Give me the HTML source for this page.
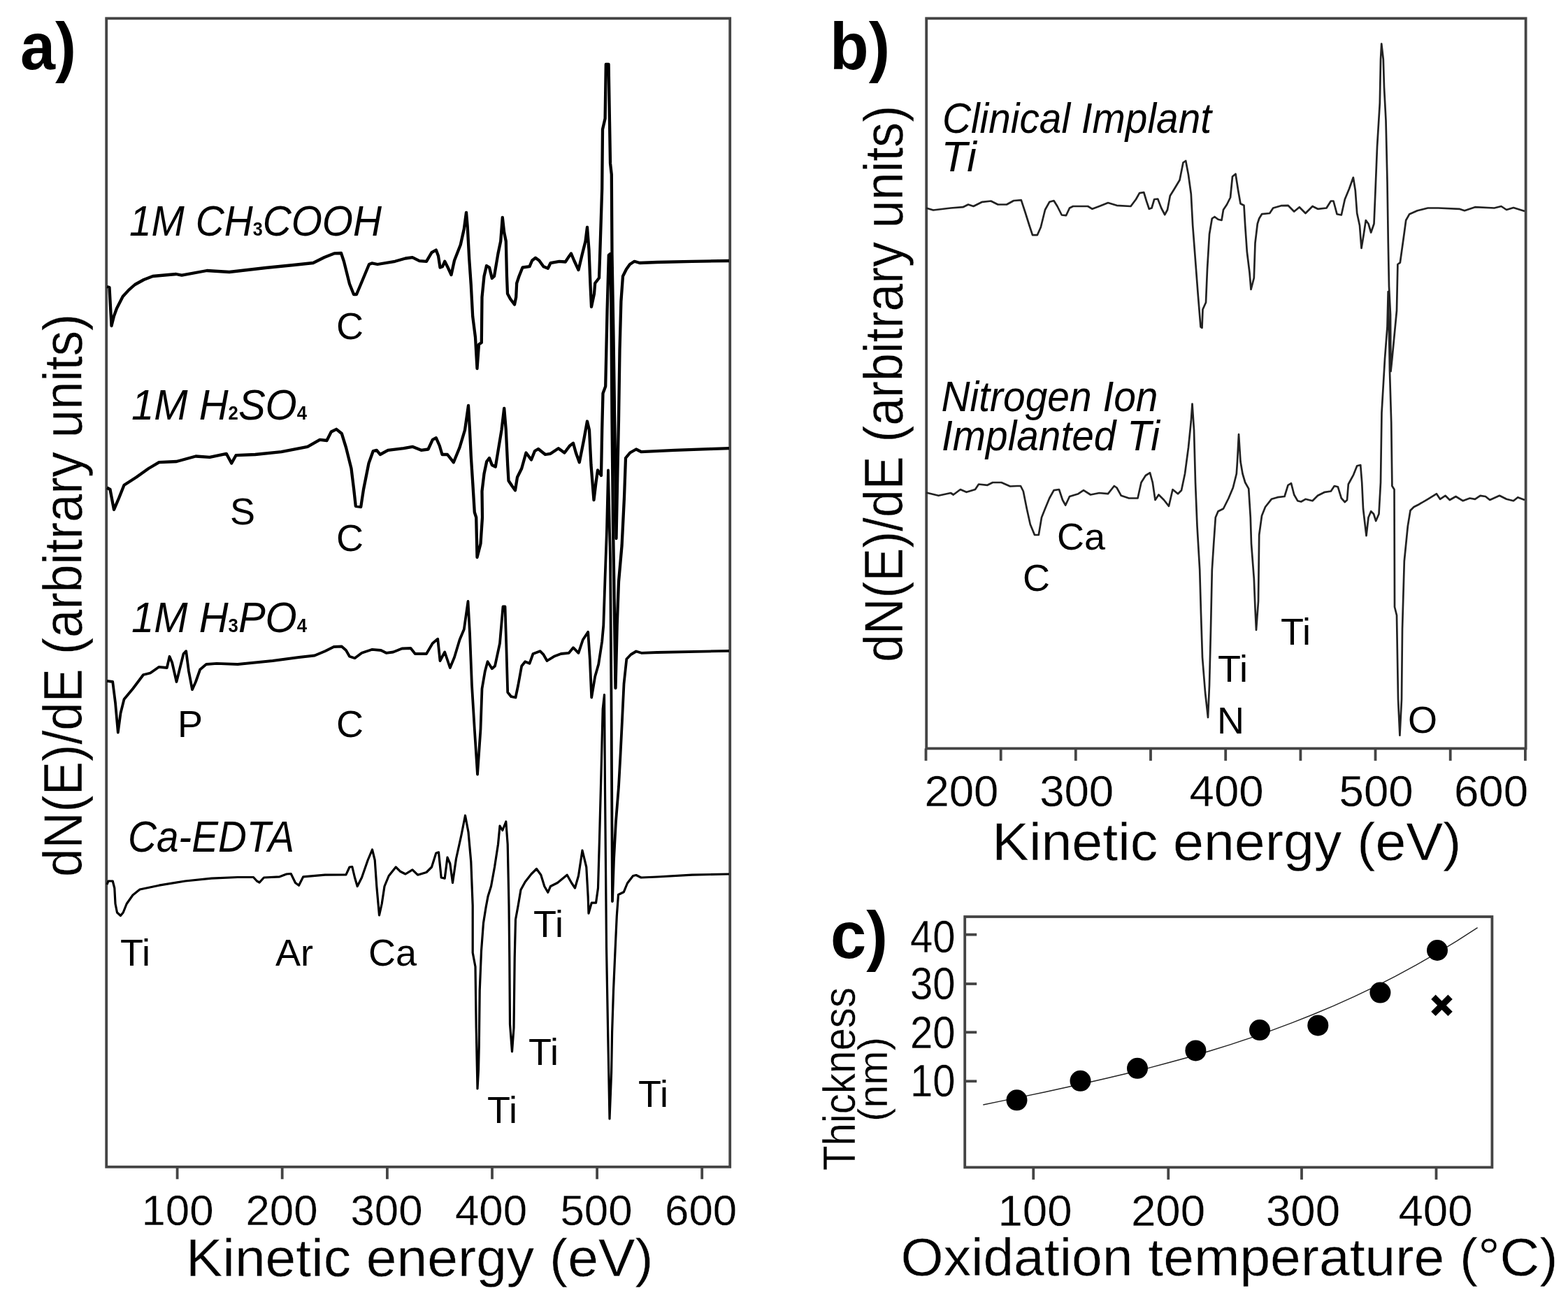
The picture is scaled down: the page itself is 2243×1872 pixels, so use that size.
<!DOCTYPE html>
<html lang="en"><head><meta charset="utf-8"><title>Auger electron spectra of titanium surfaces</title>
<style>
html,body{margin:0;padding:0;background:#fff;}
body{width:2243px;height:1872px;overflow:hidden;}
svg{display:block;filter:blur(0.6px);}
text{font-family:"Liberation Sans", Arial, Helvetica, sans-serif;fill:#000;}
.it{font-style:italic;}
.sb{font-size:27px;font-style:normal;font-weight:bold;stroke-width:0;}
.pn{font-weight:bold;}
.ax{stroke:#fff;stroke-width:0.4px;}
.tl{stroke:#fff;stroke-width:0.3px;}
.lb{}
.fr{fill:none;stroke:#444;stroke-width:3.8px;}
.tk{stroke:#444;stroke-width:3.8px;}
.ca{fill:none;stroke:#000;stroke-width:4.3px;stroke-linejoin:round;}
.c3{stroke-width:3.8px;}
.c4{stroke-width:3.2px;}
.cb{fill:none;stroke:#222;stroke-width:2.7px;stroke-linejoin:round;}
.fit{fill:none;stroke:#222;stroke-width:1.4px;stroke-linejoin:round;}
.xm{stroke:#000;stroke-width:9px;stroke-linecap:square;}
</style></head>
<body>
<svg xmlns="http://www.w3.org/2000/svg" width="2243" height="1872" viewBox="0 0 2243 1872">
<rect width="2243" height="1872" fill="#fff"/>
<rect class="fr" x="152.2" y="26.3" width="892.0" height="1642.5"/>
<line class="tk" x1="253.6" y1="1668.8" x2="253.6" y2="1686.3"/>
<line class="tk" x1="403.7" y1="1668.8" x2="403.7" y2="1686.3"/>
<line class="tk" x1="553.9" y1="1668.8" x2="553.9" y2="1686.3"/>
<line class="tk" x1="704" y1="1668.8" x2="704" y2="1686.3"/>
<line class="tk" x1="854.1" y1="1668.8" x2="854.1" y2="1686.3"/>
<line class="tk" x1="1004.2" y1="1668.8" x2="1004.2" y2="1686.3"/>
<text x="254" y="1751.5" font-size="62" text-anchor="middle" class="tl" textLength="103" lengthAdjust="spacingAndGlyphs">100</text>
<text x="403" y="1751.5" font-size="62" text-anchor="middle" class="tl" textLength="103" lengthAdjust="spacingAndGlyphs">200</text>
<text x="553" y="1751.5" font-size="62" text-anchor="middle" class="tl" textLength="103" lengthAdjust="spacingAndGlyphs">300</text>
<text x="702.5" y="1751.5" font-size="62" text-anchor="middle" class="tl" textLength="103" lengthAdjust="spacingAndGlyphs">400</text>
<text x="853" y="1751.5" font-size="62" text-anchor="middle" class="tl" textLength="103" lengthAdjust="spacingAndGlyphs">500</text>
<text x="1002.6" y="1751.5" font-size="62" text-anchor="middle" class="tl" textLength="103" lengthAdjust="spacingAndGlyphs">600</text>
<text x="266" y="1824.5" font-size="76" class="ax" textLength="668.5" lengthAdjust="spacingAndGlyphs">Kinetic energy (eV)</text>
<text x="116.6" y="1254" font-size="78" class="ax" textLength="805" lengthAdjust="spacingAndGlyphs" transform="rotate(-90 116.6 1254)">dN(E)/dE (arbitrary units)</text>
<text x="29" y="99" font-size="94" class="pn" textLength="80" lengthAdjust="spacingAndGlyphs">a)</text>
<polyline class="ca" points="153.0,410.0 156.5,411.0 159.5,466.0 163.0,452.0 167.0,441.0 175.7,424.0 184.3,414.6 193.0,407.0 205.7,400.0 218.6,395.0 252.0,392.0 260.0,393.6 296.0,387.0 328.0,389.0 380.0,383.0 420.0,379.0 448.0,376.0 464.0,368.0 478.0,362.4 488.0,362.0 492.0,374.0 500.0,406.0 506.0,421.0 510.0,421.0 518.0,402.0 528.0,378.0 532.0,376.4 540.0,378.0 565.0,373.8 580.0,369.5 590.0,368.2 600.0,373.2 610.0,373.8 617.5,361.2 623.8,357.5 627.0,366.0 629.5,382.5 633.0,381.2 636.2,373.8 640.0,381.2 645.5,393.0 650.0,372.5 658.8,350.0 663.8,327.5 667.0,303.8 668.8,325.0 671.2,370.0 673.8,407.5 676.2,452.5 680.0,482.5 682.5,527.0 685.0,492.5 688.8,490.0 689.5,425.0 692.5,395.0 696.0,380.0 700.0,382.5 703.8,398.0 707.0,395.0 712.5,362.5 716.2,345.0 718.8,311.0 721.2,332.5 723.8,345.0 725.0,395.0 726.0,420.0 730.0,427.5 736.0,435.5 738.2,425.0 739.2,405.0 742.5,395.0 747.5,382.5 757.5,381.2 761.2,372.5 766.0,368.8 771.2,372.5 777.5,381.2 783.8,383.8 787.5,376.2 800.0,373.8 808.8,374.5 812.5,368.8 817.0,362.5 821.2,372.5 827.5,386.0 832.5,365.0 837.5,345.0 840.0,325.0 842.5,357.5 844.5,407.5 846.0,438.8 850.0,420.0 851.2,405.0 857.0,397.5 858.0,370.0 861.2,270.0 862.0,185.0 865.6,169.5 866.8,92.0 870.6,92.0 872.0,174.0 873.0,233.4 874.8,249.4 875.5,363.4 877.5,480.0 879.5,620.0 881.5,770.0 883.5,670.0 885.0,600.0 886.5,500.0 888.4,431.0 891.0,395.0 896.0,385.0 901.0,378.0 907.5,373.8 915.0,376.0 940.0,375.0 990.0,373.8 1043.0,373.0"/>
<polyline class="ca" points="153.0,697.5 157.5,700.0 163.0,728.8 170.0,712.5 177.5,693.8 195.0,682.5 212.5,670.0 227.5,661.2 252.5,660.0 280.0,652.5 300.0,653.8 323.8,648.8 331.2,662.5 337.5,651.2 365.0,650.0 402.5,646.2 440.0,638.8 457.5,628.8 467.5,630.0 473.8,617.5 481.2,613.8 488.8,620.0 495.0,640.0 502.5,670.0 506.2,700.0 508.8,723.8 516.2,725.0 520.0,700.0 527.5,662.5 533.8,645.0 538.8,643.8 543.8,650.0 555.0,643.8 577.5,641.2 590.0,638.8 602.5,643.8 612.5,642.5 618.8,628.8 623.8,626.2 628.8,637.5 632.5,650.0 640.0,650.0 648.8,661.2 657.5,640.0 665.0,615.0 670.0,580.0 672.0,615.0 673.8,652.5 676.2,690.0 678.8,732.5 681.2,740.0 682.5,797.0 687.5,777.5 690.0,740.0 689.5,702.5 692.5,677.5 696.2,660.0 700.0,655.0 703.8,665.0 708.8,667.5 712.5,645.0 717.5,615.0 721.2,583.8 723.8,615.0 726.2,665.0 727.5,687.5 732.5,695.0 737.0,701.2 740.0,682.5 746.2,670.0 752.5,647.5 760.0,657.5 765.0,645.0 770.0,642.0 780.0,650.0 787.5,648.8 798.8,641.2 807.5,647.5 815.0,637.5 820.0,633.8 823.8,647.5 828.8,661.2 835.0,630.0 840.0,602.5 843.0,615.0 845.5,665.0 849.5,715.0 852.5,690.0 855.0,672.5 860.0,680.0 861.2,615.0 862.5,562.5 866.2,552.5 868.6,443.0 870.8,365.0 873.2,363.0 874.2,420.0 875.5,600.0 877.0,750.0 879.0,880.0 880.5,984.0 882.7,894.0 885.0,832.0 889.6,780.0 893.0,711.0 895.0,655.0 901.2,647.5 910.0,642.5 917.5,646.2 965.0,643.8 1043.0,641.2"/>
<polyline class="ca c3" points="153.0,973.8 161.2,975.0 165.0,1005.0 168.8,1047.5 172.5,1020.0 177.5,1000.0 190.0,985.0 205.0,965.0 215.0,962.5 227.5,953.8 238.8,955.0 242.5,938.8 246.2,947.5 252.5,975.0 257.5,955.0 262.5,935.0 266.2,931.2 270.0,960.0 275.0,986.2 280.0,975.0 286.2,957.5 295.0,950.0 310.0,948.8 340.0,950.0 390.0,945.0 427.5,940.0 450.0,937.5 465.0,931.2 477.5,925.0 488.8,924.5 495.0,930.0 500.0,938.8 507.5,941.2 517.5,933.8 532.5,928.8 545.0,930.0 552.5,933.8 562.5,932.5 575.0,927.5 587.5,927.0 593.8,935.0 610.0,935.0 618.8,920.0 626.2,913.8 629.5,945.0 636.2,932.5 643.8,955.0 650.0,940.0 657.5,915.0 663.8,900.0 669.5,860.0 672.0,905.0 675.0,980.0 678.8,1042.5 683.0,1107.5 687.5,1042.5 689.5,985.0 693.8,960.0 697.5,946.2 703.8,956.2 708.0,952.5 715.0,920.0 719.5,867.5 722.5,867.5 724.5,930.0 726.2,990.0 731.2,996.2 737.5,997.5 741.2,980.0 746.2,952.5 751.2,946.2 757.5,948.8 762.5,935.0 772.5,931.2 777.5,936.2 782.5,945.0 792.5,938.8 802.5,935.0 813.8,933.8 820.0,926.2 827.5,933.8 833.8,915.0 841.2,903.8 843.8,942.5 846.2,997.5 851.2,967.5 856.2,950.0 861.2,917.5 863.3,894.0 865.6,825.0 868.0,757.0 870.0,672.5 873.0,800.0 874.5,1000.0 876.0,1289.0 878.0,1230.0 881.0,1175.0 885.0,1125.0 887.5,1080.0 890.0,1030.0 892.5,978.0 896.3,942.5 902.5,936.0 910.0,931.5 917.5,933.8 940.0,933.0 1043.0,930.8"/>
<polyline class="ca c4" points="153.0,1265.0 155.0,1260.0 161.2,1260.0 163.8,1270.0 165.0,1292.5 167.5,1305.0 172.5,1309.5 176.2,1305.0 181.2,1292.5 190.0,1280.0 200.0,1272.0 227.5,1266.2 265.0,1260.0 302.5,1256.2 340.0,1254.5 362.5,1254.5 367.5,1260.0 371.2,1262.0 377.5,1255.0 400.0,1253.8 410.0,1250.0 416.2,1249.5 422.5,1262.5 427.5,1266.2 433.8,1253.8 465.0,1251.2 495.0,1250.8 500.0,1240.0 503.8,1239.5 507.5,1255.0 511.2,1267.5 517.5,1255.0 526.2,1230.0 532.5,1215.0 536.2,1230.0 538.8,1267.5 542.5,1308.8 546.2,1292.5 550.0,1267.5 556.2,1252.5 566.2,1240.0 572.5,1246.2 580.0,1250.0 590.0,1243.8 597.5,1251.2 610.0,1247.5 617.5,1240.0 623.8,1220.0 627.5,1218.8 631.2,1255.0 636.2,1256.2 640.0,1226.2 643.8,1235.0 647.5,1262.5 652.5,1228.0 660.0,1194.0 665.5,1166.2 670.0,1190.0 673.8,1232.5 676.2,1295.0 676.2,1362.5 680.0,1382.5 681.2,1470.0 683.0,1557.0 684.5,1530.0 685.3,1495.0 686.2,1417.0 688.5,1360.0 691.5,1320.0 695.0,1298.0 698.0,1282.0 702.5,1267.5 707.5,1240.0 712.5,1207.5 715.0,1181.2 718.8,1187.5 723.8,1175.0 726.2,1207.5 728.0,1295.0 728.8,1370.0 729.5,1465.0 732.5,1503.8 735.0,1470.0 736.2,1370.0 737.5,1315.0 741.2,1295.0 745.0,1272.5 751.2,1261.2 760.0,1250.0 767.5,1242.5 773.8,1251.2 778.8,1267.5 783.8,1276.2 787.5,1267.5 797.5,1262.5 811.2,1251.2 817.5,1262.5 822.5,1270.0 827.5,1252.5 833.0,1216.2 838.8,1240.0 841.2,1282.5 842.0,1306.2 846.2,1291.2 852.5,1291.2 855.5,1270.0 857.6,1196.6 860.0,1105.0 862.2,1014.0 864.5,993.5 865.5,1130.0 866.5,1240.0 867.5,1354.0 869.5,1468.0 872.0,1600.0 874.6,1534.0 875.6,1476.0 877.5,1417.0 880.0,1360.0 882.3,1310.0 884.5,1279.5 892.2,1275.8 897.5,1263.0 905.6,1252.5 910.0,1251.5 917.0,1255.0 940.0,1254.0 990.0,1251.2 1043.0,1250.0"/>
<text class="it" x="185" y="337" font-size="61" textLength="361" lengthAdjust="spacingAndGlyphs">1M CH<tspan class="sb">3</tspan>COOH</text>
<text class="it" x="188" y="600" font-size="61" textLength="251" lengthAdjust="spacingAndGlyphs">1M H<tspan class="sb">2</tspan>SO<tspan class="sb">4</tspan></text>
<text class="it" x="188" y="903.5" font-size="61" textLength="251" lengthAdjust="spacingAndGlyphs">1M H<tspan class="sb">3</tspan>PO<tspan class="sb">4</tspan></text>
<text x="183" y="1217.5" font-size="63" class="it" textLength="238" lengthAdjust="spacingAndGlyphs">Ca-EDTA</text>
<text x="481" y="485" font-size="54" class="lb">C</text>
<text x="329" y="750" font-size="54" class="lb">S</text>
<text x="481" y="787.5" font-size="54" class="lb">C</text>
<text x="254" y="1053.75" font-size="54" class="lb">P</text>
<text x="481" y="1053.75" font-size="54" class="lb">C</text>
<text x="172" y="1381" font-size="54" class="lb">Ti</text>
<text x="394" y="1381" font-size="54" class="lb">Ar</text>
<text x="527" y="1381" font-size="54" class="lb">Ca</text>
<text x="763" y="1340" font-size="54" class="lb">Ti</text>
<text x="756" y="1522.5" font-size="54" class="lb">Ti</text>
<text x="697" y="1605.5" font-size="54" class="lb">Ti</text>
<text x="913" y="1582.5" font-size="54" class="lb">Ti</text>
<rect class="fr" x="1325.2" y="26.3" width="857.4" height="1044.1"/>
<line class="tk" x1="1324.5" y1="1070.4" x2="1324.5" y2="1087.9"/>
<line class="tk" x1="1431.7" y1="1070.4" x2="1431.7" y2="1087.9"/>
<line class="tk" x1="1538.8" y1="1070.4" x2="1538.8" y2="1087.9"/>
<line class="tk" x1="1646.0" y1="1070.4" x2="1646.0" y2="1087.9"/>
<line class="tk" x1="1753.2" y1="1070.4" x2="1753.2" y2="1087.9"/>
<line class="tk" x1="1860.4" y1="1070.4" x2="1860.4" y2="1087.9"/>
<line class="tk" x1="1967.5" y1="1070.4" x2="1967.5" y2="1087.9"/>
<line class="tk" x1="2074.7" y1="1070.4" x2="2074.7" y2="1087.9"/>
<line class="tk" x1="2181.9" y1="1070.4" x2="2181.9" y2="1087.9"/>
<text x="1375.4" y="1152.9" font-size="63" text-anchor="middle" class="tl" textLength="106" lengthAdjust="spacingAndGlyphs">200</text>
<text x="1540.2" y="1152.9" font-size="63" text-anchor="middle" class="tl" textLength="106" lengthAdjust="spacingAndGlyphs">300</text>
<text x="1754.6" y="1152.9" font-size="63" text-anchor="middle" class="tl" textLength="106" lengthAdjust="spacingAndGlyphs">400</text>
<text x="1968.6" y="1152.9" font-size="63" text-anchor="middle" class="tl" textLength="106" lengthAdjust="spacingAndGlyphs">500</text>
<text x="2133" y="1152.9" font-size="63" text-anchor="middle" class="tl" textLength="106" lengthAdjust="spacingAndGlyphs">600</text>
<text x="1419.3" y="1229.5" font-size="76" class="ax" textLength="671" lengthAdjust="spacingAndGlyphs">Kinetic energy (eV)</text>
<text x="1290.7" y="947" font-size="78" class="ax" textLength="796" lengthAdjust="spacingAndGlyphs" transform="rotate(-90 1290.7 947)">dN(E)/dE (arbitrary units)</text>
<text x="1187" y="99" font-size="94" class="pn" textLength="86" lengthAdjust="spacingAndGlyphs">b)</text>
<polyline class="cb" points="1325.0,297.5 1335.0,300.5 1360.0,297.5 1377.5,296.2 1385.0,292.5 1392.5,295.0 1405.0,288.8 1417.5,287.5 1427.5,292.5 1440.0,292.5 1450.0,287.0 1460.8,286.2 1466.2,302.5 1472.5,322.5 1477.0,336.2 1483.8,336.2 1488.8,325.0 1495.0,300.0 1501.2,288.8 1507.5,287.0 1512.5,295.0 1518.8,307.5 1525.0,308.2 1530.0,297.5 1535.0,295.0 1556.2,295.0 1562.5,298.8 1572.5,295.0 1585.0,290.0 1597.5,293.8 1617.5,295.0 1625.0,285.0 1630.0,276.2 1636.2,275.0 1640.0,287.5 1643.8,298.8 1647.5,297.5 1651.2,285.0 1656.2,284.5 1661.2,297.5 1666.2,307.0 1670.0,300.0 1673.8,280.0 1680.0,270.0 1687.5,257.5 1692.5,232.5 1696.2,230.0 1700.0,250.0 1703.8,277.5 1706.2,322.5 1710.0,372.5 1713.8,422.5 1717.5,467.5 1719.5,468.8 1720.5,442.5 1725.0,432.5 1727.0,385.0 1730.0,335.0 1733.8,312.5 1737.5,310.0 1742.5,313.8 1747.5,315.0 1750.0,300.0 1755.0,292.5 1760.0,282.5 1763.0,252.5 1767.5,248.8 1771.2,272.5 1774.5,291.2 1779.5,293.8 1781.2,322.5 1783.8,360.0 1787.5,390.0 1789.5,413.8 1793.8,397.5 1795.5,347.5 1798.8,320.0 1801.2,312.5 1805.0,306.2 1816.2,305.0 1821.2,297.5 1832.5,294.2 1842.5,293.8 1851.2,302.5 1858.8,296.2 1867.5,305.0 1877.5,295.0 1885.0,298.8 1897.5,297.5 1903.8,287.5 1907.5,287.5 1912.5,306.2 1918.8,307.5 1923.8,285.0 1930.0,270.0 1935.8,253.8 1938.8,272.5 1941.2,305.0 1945.0,322.5 1947.5,355.0 1950.8,335.0 1953.8,315.0 1957.5,320.0 1961.2,332.5 1965.5,320.0 1967.5,272.5 1970.0,210.0 1973.8,147.5 1975.0,85.0 1976.2,62.5 1978.8,85.0 1980.0,125.0 1982.5,172.5 1984.5,260.0 1985.8,347.5 1987.0,410.0 1989.0,450.0 1989.5,531.0 1991.4,513.0 1998.0,444.0 1999.4,378.0 2002.8,375.7 2008.5,335.0 2011.2,315.0 2016.2,306.2 2027.5,301.2 2042.5,297.5 2057.5,297.5 2087.5,298.8 2095.0,301.2 2110.0,296.2 2137.5,297.5 2147.5,295.0 2155.0,300.0 2165.0,297.0 2181.0,302.0"/>
<polyline class="cb" points="1325.0,704.5 1342.5,708.8 1360.0,705.0 1363.8,707.5 1373.8,700.0 1382.5,703.8 1395.0,700.0 1400.0,692.5 1412.5,693.8 1420.0,690.0 1432.5,690.0 1445.0,695.5 1455.0,695.0 1460.0,695.0 1463.8,702.5 1468.8,727.5 1473.8,750.0 1480.0,765.0 1485.8,765.0 1490.0,740.0 1495.0,727.5 1501.2,712.5 1507.5,701.2 1515.0,700.0 1520.0,715.0 1524.2,722.5 1530.0,710.0 1542.5,706.2 1550.0,701.2 1560.0,707.5 1572.5,705.0 1585.0,706.2 1593.8,695.0 1597.5,697.5 1603.8,708.8 1615.0,712.5 1627.5,712.5 1632.5,690.0 1638.8,680.0 1645.0,676.2 1648.8,690.0 1652.5,715.0 1657.5,707.5 1665.0,715.0 1672.0,723.8 1677.5,700.0 1685.0,706.2 1690.0,701.2 1695.0,677.5 1700.0,640.0 1703.8,602.5 1705.5,577.5 1708.0,615.0 1710.0,690.0 1712.5,752.0 1716.2,815.0 1718.0,878.0 1720.0,940.0 1724.0,990.0 1728.0,1026.0 1730.0,980.0 1732.0,900.0 1733.8,815.0 1736.2,777.5 1738.8,740.0 1742.5,731.2 1750.0,727.5 1757.5,712.5 1763.8,697.5 1768.8,677.5 1770.0,660.0 1772.0,621.2 1774.5,660.0 1777.5,677.5 1781.2,690.0 1786.2,698.8 1788.8,740.0 1790.0,777.5 1793.8,827.5 1795.5,870.0 1797.0,901.0 1800.0,860.0 1801.2,765.0 1805.0,737.5 1810.0,725.0 1818.8,713.8 1827.5,711.2 1837.5,710.0 1842.5,693.8 1847.0,691.2 1851.2,707.5 1856.2,716.2 1861.2,717.5 1867.5,713.8 1877.5,716.2 1885.0,708.8 1895.0,703.8 1903.8,702.5 1908.8,695.0 1913.8,696.2 1918.8,712.5 1923.8,718.0 1927.0,715.0 1928.8,692.5 1936.2,678.8 1941.2,666.2 1946.2,665.0 1948.2,690.0 1950.0,727.5 1954.5,766.2 1957.5,740.0 1961.2,731.2 1965.0,735.0 1968.2,745.0 1972.5,735.0 1975.0,690.0 1976.5,590.0 1981.0,513.0 1984.5,467.0 1985.7,417.0 1987.5,500.0 1988.0,531.0 1990.2,604.0 1991.4,695.0 1994.5,700.0 1994.8,800.0 1995.0,868.0 1998.0,880.0 2000.0,1000.0 2002.4,1051.6 2005.0,1000.0 2006.0,900.0 2008.8,802.5 2013.8,752.5 2017.5,730.0 2022.5,725.0 2030.0,721.2 2042.5,713.8 2055.0,706.2 2060.0,713.8 2067.5,708.8 2073.8,715.0 2082.5,710.0 2092.5,716.2 2102.5,712.5 2110.0,713.8 2117.5,708.8 2125.0,710.0 2131.2,715.0 2145.0,708.8 2155.0,713.8 2165.0,716.2 2171.2,711.2 2181.0,715.0"/>
<text x="1348" y="190" font-size="61" class="it" textLength="385" lengthAdjust="spacingAndGlyphs">Clinical Implant</text>
<text x="1346.5" y="245" font-size="61" class="it">Ti</text>
<text x="1346.5" y="587.5" font-size="61" class="it" textLength="310" lengthAdjust="spacingAndGlyphs">Nitrogen Ion</text>
<text x="1347" y="643.75" font-size="61" class="it" textLength="312" lengthAdjust="spacingAndGlyphs">Implanted Ti</text>
<text x="1512" y="786.25" font-size="54" class="lb">Ca</text>
<text x="1463" y="845" font-size="54" class="lb">C</text>
<text x="1832" y="922" font-size="54" class="lb">Ti</text>
<text x="1742" y="975" font-size="54" class="lb">Ti</text>
<text x="1741" y="1049" font-size="54" class="lb">N</text>
<text x="2014" y="1048" font-size="54" class="lb">O</text>
<rect class="fr" x="1380.2" y="1311.0" width="754.2" height="358.4"/>
<line class="tk" x1="1478.25" y1="1669.4" x2="1478.25" y2="1686.9"/>
<line class="tk" x1="1671.25" y1="1669.4" x2="1671.25" y2="1686.9"/>
<line class="tk" x1="1862" y1="1669.4" x2="1862" y2="1686.9"/>
<line class="tk" x1="2054.5" y1="1669.4" x2="2054.5" y2="1686.9"/>
<line class="tk" x1="1380.2" y1="1336.6" x2="1397.2" y2="1336.6"/>
<line class="tk" x1="1380.2" y1="1407" x2="1397.2" y2="1407"/>
<line class="tk" x1="1380.2" y1="1476.25" x2="1397.2" y2="1476.25"/>
<line class="tk" x1="1380.2" y1="1546.25" x2="1397.2" y2="1546.25"/>
<text x="1366.5" y="1361.5" font-size="64" text-anchor="end" class="tl" textLength="64.5" lengthAdjust="spacingAndGlyphs">40</text>
<text x="1366.5" y="1428.8" font-size="64" text-anchor="end" class="tl" textLength="64.5" lengthAdjust="spacingAndGlyphs">30</text>
<text x="1366.5" y="1498.7" font-size="64" text-anchor="end" class="tl" textLength="64.5" lengthAdjust="spacingAndGlyphs">20</text>
<text x="1366.5" y="1567.7" font-size="64" text-anchor="end" class="tl" textLength="64.5" lengthAdjust="spacingAndGlyphs">10</text>
<text x="1480.5" y="1752.6" font-size="63" text-anchor="middle" class="tl" textLength="106" lengthAdjust="spacingAndGlyphs">100</text>
<text x="1671" y="1752.6" font-size="63" text-anchor="middle" class="tl" textLength="106" lengthAdjust="spacingAndGlyphs">200</text>
<text x="1864" y="1752.6" font-size="63" text-anchor="middle" class="tl" textLength="106" lengthAdjust="spacingAndGlyphs">300</text>
<text x="2053.5" y="1752.6" font-size="63" text-anchor="middle" class="tl" textLength="106" lengthAdjust="spacingAndGlyphs">400</text>
<text x="1288.5" y="1824" font-size="76" class="ax" textLength="940" lengthAdjust="spacingAndGlyphs">Oxidation temperature (°C)</text>
<text x="1222.7" y="1674" font-size="64" class="ax" textLength="262" lengthAdjust="spacingAndGlyphs" transform="rotate(-90 1222.7 1674)">Thickness</text>
<text x="1268.75" y="1604" font-size="60" class="ax" textLength="121" lengthAdjust="spacingAndGlyphs" transform="rotate(-90 1268.75 1604)">(nm)</text>
<text x="1188" y="1369.5" font-size="94" class="pn" textLength="82" lengthAdjust="spacingAndGlyphs">c)</text>
<path class="fit" d="M1406.3,1580.0 L1435.8,1573.9 L1465.2,1567.9 L1494.7,1561.7 L1524.2,1555.3 L1553.7,1548.8 L1583.1,1542.0 L1612.6,1535.0 L1642.1,1527.6 L1671.5,1519.8 L1701.0,1511.7 L1730.5,1503.0 L1760.0,1493.8 L1789.4,1484.1 L1818.9,1473.7 L1848.4,1462.7 L1877.8,1451.0 L1907.3,1438.6 L1936.8,1425.4 L1966.2,1411.3 L1995.7,1396.3 L2025.2,1380.4 L2054.7,1363.5 L2084.1,1345.6 L2113.6,1326.6"/>
<circle cx="1454.5" cy="1573.3" r="15"/>
<circle cx="1545.5" cy="1545.8" r="15"/>
<circle cx="1627" cy="1527.8" r="15"/>
<circle cx="1710.4" cy="1502.4" r="15"/>
<circle cx="1802" cy="1473.1" r="15"/>
<circle cx="1885.3" cy="1466.4" r="15"/>
<circle cx="1974.4" cy="1419.6" r="15"/>
<circle cx="2056" cy="1359" r="15"/>
<g class="xm"><line x1="2053.6" y1="1428.9" x2="2071.4" y2="1446.7"/><line x1="2053.6" y1="1446.7" x2="2071.4" y2="1428.9"/></g>
</svg>
</body></html>
